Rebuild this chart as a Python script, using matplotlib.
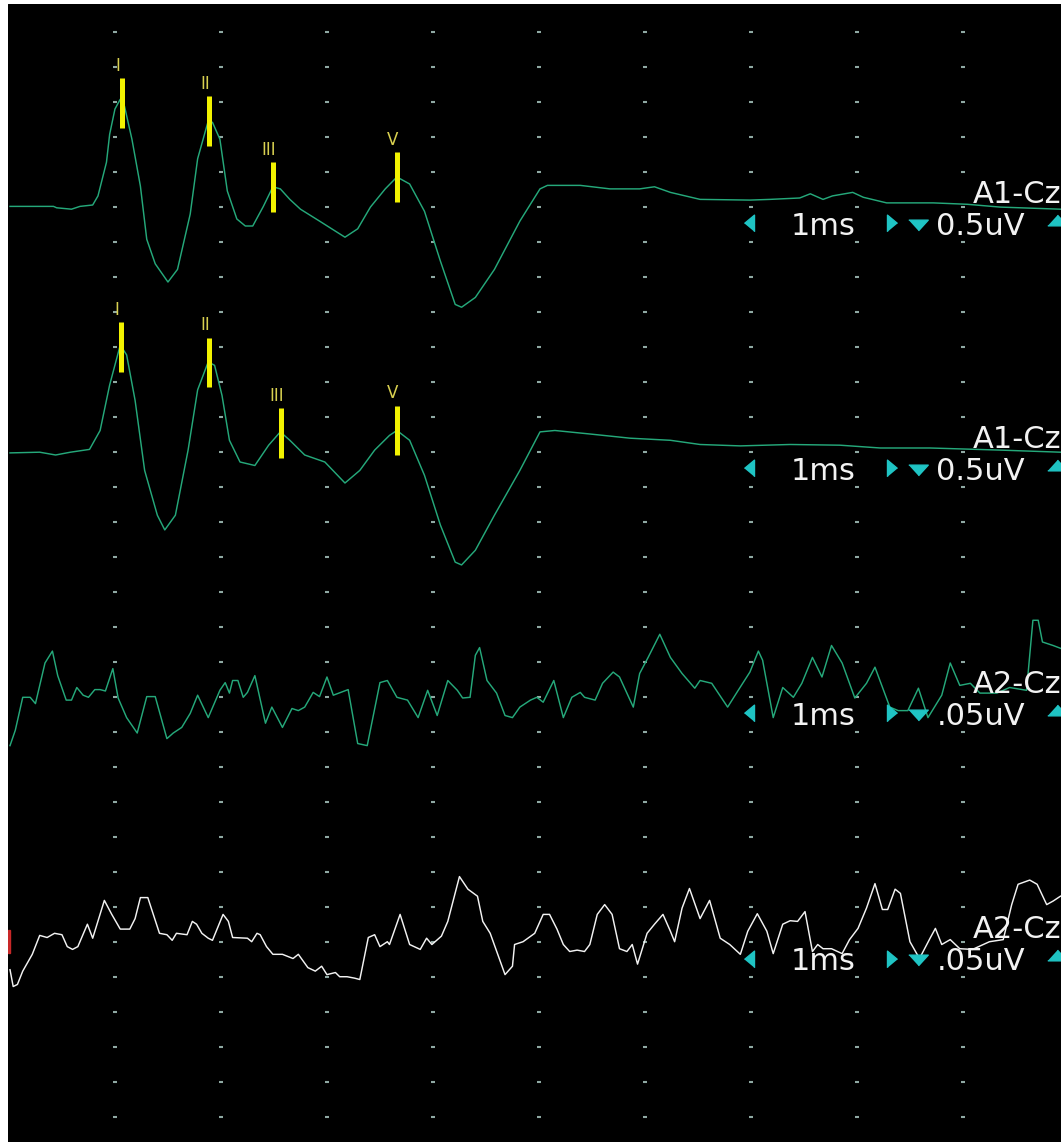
"""
ABR recording screen: two averaged A1-Cz responses with wave I/II/III/V marks,
and two A2-Cz (contralateral) noise traces.
"""
import numpy as np
import matplotlib
matplotlib.use("Agg")
import matplotlib.pyplot as plt
from matplotlib.patches import Rectangle

# ── Channel setup ────────────────────────────────────────────────────────────
CHANNELS = ["A1-Cz", "A1-Cz", "A2-Cz", "A2-Cz"]
GAIN_LABELS = ["0.5uV", "0.5uV", ".05uV", ".05uV"]
GAIN_UV_PER_DIV = [0.5, 0.5, 0.05, 0.05]
TIMEBASE = "1ms"
PEAK_NAMES = ["I", "II", "III", "V"]

# ── Trace 1: A1-Cz (ms, uV) ──────────────────────────────────────────────────
t1_ms = [0.01, 0.42, 0.45, 0.59, 0.67, 0.79, 0.84, 0.92, 0.95, 1.00, 1.05, 1.09,
         1.16, 1.24, 1.30, 1.38, 1.50, 1.59, 1.71, 1.78, 1.88, 1.92, 1.99, 2.06,
         2.15, 2.23, 2.30, 2.40, 2.49, 2.56, 2.65, 2.75, 2.93, 3.17, 3.29, 3.41,
         3.55, 3.66, 3.78, 3.92, 4.07, 4.21, 4.27, 4.40, 4.58, 4.82, 5.01, 5.08,
         5.39, 5.67, 5.95, 6.09, 6.24, 6.52, 6.99, 7.18, 7.46, 7.56, 7.68, 7.77,
         7.96, 8.06, 8.28, 8.47, 8.72, 9.04, 9.35, 9.92]
t1_uv = [0.01, 0.01, -0.01, -0.03, 0.01, 0.03, 0.16, 0.64, 1.04, 1.40, 1.54, 1.44,
         0.97, 0.30, -0.46, -0.81, -1.07, -0.89, -0.10, 0.69, 1.23, 1.21, 0.97, 0.23,
         -0.17, -0.27, -0.27, 0.01, 0.29, 0.26, 0.11, -0.03, -0.20, -0.43, -0.31, 0.00,
         0.26, 0.43, 0.33, -0.06, -0.77, -1.39, -1.43, -1.29, -0.89, -0.20, 0.26, 0.31,
         0.31, 0.26, 0.26, 0.29, 0.21, 0.11, 0.10, 0.11, 0.13, 0.19, 0.11, 0.16,
         0.21, 0.14, 0.06, 0.06, 0.06, 0.04, 0.00, -0.03]
t1_peaks_ms = [1.07, 1.89, 2.49, 3.66]

# ── Trace 2: A1-Cz (ms, uV) ──────────────────────────────────────────────────
t2_ms = [0.01, 0.29, 0.44, 0.58, 0.76, 0.86, 0.95, 1.05, 1.11, 1.19, 1.28, 1.40,
         1.47, 1.57, 1.69, 1.78, 1.88, 1.94, 2.01, 2.08, 2.18, 2.32, 2.45, 2.56,
         2.65, 2.79, 2.98, 3.17, 3.31, 3.45, 3.59, 3.66, 3.78, 3.92, 4.07, 4.21,
         4.27, 4.40, 4.58, 4.82, 5.01, 5.15, 5.48, 5.86, 6.24, 6.52, 6.90, 7.37,
         7.84, 8.22, 8.69, 9.35, 9.92]
t2_uv = [-0.01, 0.00, -0.04, 0.00, 0.04, 0.31, 0.96, 1.53, 1.39, 0.74, -0.26, -0.90,
         -1.11, -0.90, 0.03, 0.89, 1.29, 1.24, 0.81, 0.17, -0.14, -0.19, 0.10, 0.29,
         0.17, -0.04, -0.14, -0.44, -0.26, 0.03, 0.24, 0.31, 0.17, -0.33, -1.04, -1.57,
         -1.61, -1.40, -0.90, -0.26, 0.29, 0.31, 0.26, 0.20, 0.17, 0.11, 0.09, 0.11,
         0.10, 0.06, 0.06, 0.03, 0.00]
t2_peaks_ms = [1.06, 1.89, 2.57, 3.66]

# ── Trace 3: A2-Cz (ms, uV) ──────────────────────────────────────────────────
t3_ms = [0.01, 0.06, 0.13, 0.20, 0.25, 0.34, 0.41, 0.46, 0.54, 0.59, 0.64, 0.70,
         0.75, 0.81, 0.86, 0.91, 0.98, 1.03, 1.11, 1.21, 1.30, 1.38, 1.49, 1.55,
         1.63, 1.71, 1.78, 1.88, 1.99, 2.04, 2.08, 2.11, 2.16, 2.21, 2.25, 2.32,
         2.42, 2.48, 2.58, 2.67, 2.73, 2.79, 2.87, 2.93, 3.00, 3.06, 3.20, 3.29,
         3.38, 3.50, 3.57, 3.66, 3.76, 3.86, 3.95, 4.04, 4.14, 4.23, 4.28, 4.35,
         4.40, 4.44, 4.51, 4.60, 4.68, 4.75, 4.82, 4.92, 4.98, 5.04, 5.14, 5.23,
         5.31, 5.39, 5.43, 5.53, 5.60, 5.70, 5.76, 5.89, 5.95, 6.03, 6.14, 6.24,
         6.35, 6.47, 6.52, 6.63, 6.78, 6.88, 6.99, 7.07, 7.11, 7.21, 7.30, 7.40,
         7.48, 7.58, 7.67, 7.76, 7.86, 7.98, 8.09, 8.17, 8.31, 8.39, 8.48, 8.58,
         8.67, 8.80, 8.88, 8.97, 9.07, 9.16, 9.32, 9.44, 9.60, 9.66, 9.71, 9.75,
         9.85, 9.92]
t3_uv = [-0.069, -0.047, 0.000, 0.000, -0.009, 0.049, 0.066, 0.031, -0.004, -0.004,
         0.014, 0.003, 0.000, 0.011, 0.011, 0.009, 0.041, -0.001, -0.029, -0.051,
         0.001, 0.001, -0.059, -0.051, -0.043, -0.023, 0.003, -0.029, 0.010, 0.021,
         0.006, 0.024, 0.024, 0.000, 0.007, 0.031, -0.037, -0.014, -0.043, -0.016,
         -0.019, -0.014, 0.007, 0.001, 0.029, 0.003, 0.011, -0.066, -0.069, 0.021,
         0.024, 0.000, -0.004, -0.029, 0.010, -0.026, 0.024, 0.010, -0.001, 0.000,
         0.060, 0.071, 0.024, 0.006, -0.026, -0.029, -0.014, -0.004, 0.000, -0.007,
         0.024, -0.029, 0.000, 0.007, 0.000, -0.004, 0.020, 0.036, 0.029, -0.014,
         0.034, 0.057, 0.090, 0.057, 0.034, 0.013, 0.024, 0.020, -0.014, 0.010,
         0.036, 0.066, 0.053, -0.029, 0.014, 0.000, 0.020, 0.057, 0.029, 0.074,
         0.049, -0.001, 0.020, 0.043, -0.014, -0.019, -0.019, 0.013, -0.029, 0.003,
         0.049, 0.017, 0.020, 0.006, 0.006, 0.014, 0.010, 0.110, 0.110, 0.079,
         0.074, 0.070]

# ── Trace 4: A2-Cz (ms, uV) ──────────────────────────────────────────────────
t4_ms = [0.01, 0.04, 0.08, 0.13, 0.22, 0.29, 0.36, 0.43, 0.50, 0.55, 0.60, 0.65,
         0.74, 0.79, 0.90, 0.97, 1.05, 1.14, 1.19, 1.24, 1.31, 1.42, 1.49, 1.54,
         1.58, 1.68, 1.73, 1.77, 1.82, 1.88, 1.92, 2.02, 2.07, 2.11, 2.25, 2.29,
         2.34, 2.37, 2.43, 2.49, 2.58, 2.68, 2.73, 2.82, 2.89, 2.95, 3.00, 3.08,
         3.12, 3.19, 3.26, 3.31, 3.39, 3.45, 3.50, 3.57, 3.59, 3.69, 3.78, 3.88,
         3.94, 3.99, 4.08, 4.14, 4.25, 4.33, 4.42, 4.47, 4.54, 4.68, 4.75, 4.77,
         4.85, 4.96, 5.04, 5.10, 5.17, 5.23, 5.29, 5.36, 5.43, 5.48, 5.55, 5.62,
         5.69, 5.76, 5.83, 5.88, 5.93, 6.02, 6.09, 6.17, 6.24, 6.28, 6.35, 6.42,
         6.52, 6.61, 6.71, 6.80, 6.90, 6.97, 7.06, 7.15, 7.21, 7.30, 7.37, 7.44,
         7.51, 7.58, 7.63, 7.68, 7.76, 7.86, 7.93, 8.01, 8.09, 8.17, 8.24, 8.29,
         8.36, 8.41, 8.50, 8.59, 8.69, 8.74, 8.80, 8.88, 8.97, 9.09, 9.25, 9.38,
         9.46, 9.52, 9.63, 9.70, 9.79, 9.85, 9.92]
t4_uv = [-0.039, -0.063, -0.060, -0.041, -0.017, 0.010, 0.007, 0.013, 0.011, -0.006,
         -0.010, -0.006, 0.026, 0.006, 0.060, 0.040, 0.019, 0.019, 0.034, 0.064,
         0.064, 0.013, 0.011, 0.003, 0.013, 0.011, 0.030, 0.026, 0.013, 0.006,
         0.003, 0.040, 0.030, 0.007, 0.006, 0.001, 0.013, 0.011, -0.006, -0.017,
         -0.017, -0.023, -0.017, -0.036, -0.041, -0.034, -0.046, -0.043, -0.049, -0.049,
         -0.051, -0.053, 0.007, 0.011, -0.006, 0.001, -0.003, 0.040, -0.003, -0.010,
         0.006, -0.003, 0.009, 0.030, 0.094, 0.076, 0.066, 0.030, 0.013, -0.046,
         -0.034, -0.003, 0.001, 0.013, 0.040, 0.040, 0.019, -0.003, -0.013, -0.011,
         -0.013, -0.003, 0.040, 0.054, 0.040, -0.009, -0.013, -0.003, -0.031, 0.013,
         0.026, 0.040, 0.016, 0.001, 0.049, 0.077, 0.034, 0.060, 0.006, -0.003,
         -0.017, 0.016, 0.041, 0.016, -0.016, 0.026, 0.031, 0.030, 0.044, -0.013,
         -0.003, -0.009, -0.009, -0.016, 0.004, 0.020, 0.049, 0.084, 0.047, 0.047,
         0.076, 0.070, 0.001, -0.023, 0.006, 0.020, -0.003, 0.004, -0.009, -0.010,
         0.001, 0.004, 0.054, 0.083, 0.089, 0.083, 0.054, 0.059, 0.066]

TRACES = [(t1_ms, t1_uv), (t2_ms, t2_uv), (t3_ms, t3_uv), (t4_ms, t4_uv)]
TRACE_COLORS = ["#25a87a", "#25a87a", "#25a87a", "#f2f2f2"]
PEAKS = [t1_peaks_ms, t2_peaks_ms, None, None]

BASELINE_DIV = [5, 12, 19, 26]      # vertical divisions from the top grid row
N_ROWS, N_COLS = 32, 9

fig = plt.figure(figsize=(10.61, 11.42), dpi=100, facecolor="white")
ax = fig.add_axes([8 / 1061, 0, 1053 / 1061, 1138 / 1142])
ax.set_facecolor("black")
ax.set_xlim(-0.009, 9.925)
ax.set_ylim(31.7, -0.8)
ax.set_axis_off()
ax.add_patch(Rectangle((0, 0), 1, 1, transform=ax.transAxes, color="black", zorder=0))

# dotted graticule
gx, gy = np.meshgrid(np.arange(1, N_COLS + 1), np.arange(N_ROWS))
ax.plot(gx.ravel(), gy.ravel(), ls="none", marker="_", ms=3, mew=1.5,
        color="#8fa9a3", zorder=1)

# cursor glyphs: left / right / down / up
tri_left = [(-0.6, 0), (0.6, 1), (0.6, -1)]
tri_right = [(0.6, 0), (-0.6, 1), (-0.6, -1)]
tri_down = [(0, -0.55), (1, 0.55), (-1, 0.55)]
tri_up = [(0, 0.55), (1, -0.55), (-1, -0.55)]
CYAN = "#1fc4c4"

for i, (t, uv) in enumerate(TRACES):
    base = BASELINE_DIV[i]
    y = base - np.asarray(uv) / GAIN_UV_PER_DIV[i]
    ax.plot(t, y, color=TRACE_COLORS[i], lw=1.05, zorder=3)

    if PEAKS[i] is not None:
        for name, lat in zip(PEAK_NAMES, PEAKS[i]):
            yc = np.interp(lat, t, y)
            ax.plot([lat, lat], [yc - 0.71, yc + 0.71], color="#f2f200",
                    lw=3.6, solid_capstyle="butt", zorder=4)
            ax.text(lat - 0.04, yc - 0.8, name, color="#d8d050", fontsize=12,
                    ha="center", va="bottom", family="DejaVu Sans", zorder=4)

    # channel label and scale readout (baseline-anchored so the rows don't collide)
    ax.text(9.93, base - 0.12, CHANNELS[i], color="#f2f2f2", fontsize=22,
            ha="right", va="baseline", zorder=5)
    ax.text(7.68, base + 0.8, TIMEBASE, color="#f2f2f2", fontsize=22,
            ha="center", va="baseline", zorder=5)
    ax.text(8.75, base + 0.8, GAIN_LABELS[i], color="#f2f2f2", fontsize=22,
            ha="left", va="baseline", zorder=5)
    ax.plot(6.98, base + 0.46, marker=tri_left, ms=12, color=CYAN, zorder=5)
    ax.plot(8.33, base + 0.46, marker=tri_right, ms=12, color=CYAN, zorder=5)
    ax.plot(8.58, base + 0.5, marker=tri_down, ms=14, color=CYAN, zorder=5)
    ax.plot(9.89, base + 0.36, marker=tri_up, ms=14, color=CYAN, zorder=5)

# red marker on the left edge (active channel)
ax.add_patch(Rectangle((-0.009, 25.64), 0.02, 0.66, color="#c82828", zorder=5))

fig.savefig("out.png", dpi=100, facecolor="white")
